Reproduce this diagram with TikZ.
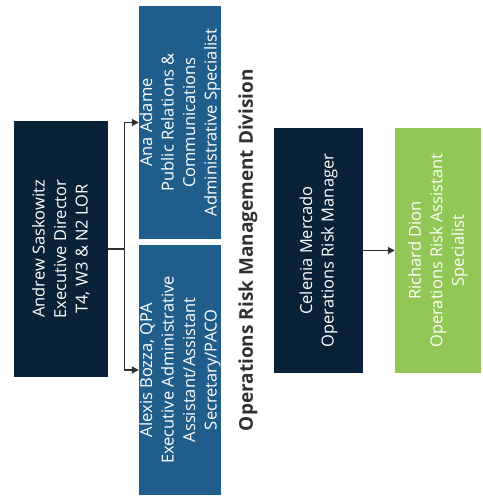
\documentclass[tikz,border=0pt]{standalone}
\usepackage{fontspec}
\setmainfont{Open Sans}
\usetikzlibrary{positioning,arrows.meta}

\definecolor{navy}{HTML}{092238}
\definecolor{steel}{HTML}{1F5D8B}
\definecolor{leaf}{HTML}{92C656}
\definecolor{ink}{HTML}{303030}

\begin{document}
\begin{tikzpicture}[
  x=1pt, y=1pt,
  box/.style={rotate=90, align=center, text=white, inner sep=0pt,
    font=\fontsize{16.5}{21.5}\selectfont},
  exec/.style={box, fill=navy},
  staff/.style={box, fill=steel},
  assist/.style={box, fill=leaf},
  link/.style={line width=1.4pt, ink},
  oneway/.style={-{Triangle[length=7pt,width=7pt]}, link}
]
\useasboundingbox (0,0) rectangle (482,497);

% Director and his staff (left column)
\node[exec, minimum width=256, minimum height=94] (andrew) at (61,248)
  {Andrew Saskowitz\\Executive Director\\T4, W3 \& N2 LOR};
\node[staff, minimum width=233, minimum height=82] (ana) at (180,374.5)
  {Ana Adame\\Public Relations \&\\Communications\\Administrative Specialist};
\node[staff, minimum width=250, minimum height=82] (alexis) at (180,127)
  {Alexis Bozza, QPA\\Executive Administrative\\Assistant/Assistant\\Secretary/PACO};

% Division heading
\node[rotate=90, text=ink, font=\fontsize{19}{23}\selectfont\bfseries] (division) at (248,247)
  {Operations Risk Management Division};

% Division (right part)
\node[exec, minimum width=245, minimum height=89] (celenia) at (318.5,246.5)
  {Celenia Mercado\\Operations Risk Manager};
\node[assist, minimum width=245, minimum height=86] (richard) at (438,246.5)
  {Richard Dion\\Operations Risk Assistant\\Specialist};

% Reporting lines (rotated boxes: south is right side, north is left side)
\draw[link] (andrew.south) -- ++(16,0) coordinate (split);
\draw[oneway] (split) |- (ana.north);
\draw[oneway] (split) |- (alexis.north);
\draw[oneway] (celenia.south) -- (richard.north);

\end{tikzpicture}
\end{document}
